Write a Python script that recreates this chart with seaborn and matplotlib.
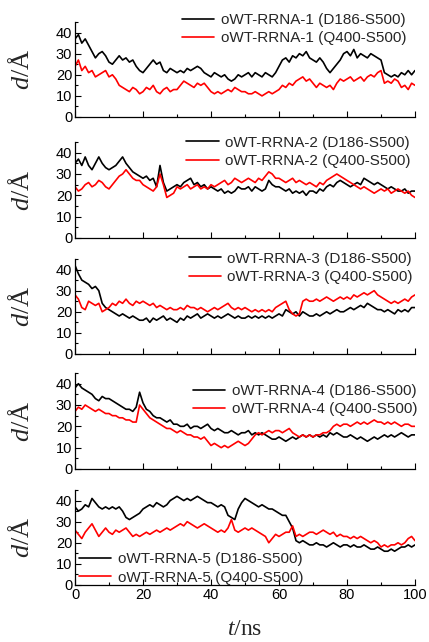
import numpy as np
import pandas as pd
import matplotlib
matplotlib.use("Agg")
import matplotlib.pyplot as plt
from matplotlib.ticker import MultipleLocator
import seaborn as sns

# time axis, 1 ns steps
t_ns = np.arange(0, 101)

# distances (Angstrom)
b1 = [37, 39, 35, 37, 34, 31, 28, 30, 31, 29,
      26, 25, 27, 29, 27, 28, 26, 27, 24, 22,
      21, 23, 25, 27, 25, 26, 22, 21, 23, 22,
      21, 22, 21, 23, 22, 23, 24, 23, 21, 20,
      19, 21, 20, 19, 20, 18, 17, 18, 20, 19,
      20, 21, 19, 21, 20, 19, 21, 20, 19, 21,
      24, 27, 28, 26, 29, 28, 30, 29, 31, 28,
      27, 26, 28, 26, 23, 21, 23, 25, 27, 30,
      31, 29, 32, 28, 30, 29, 28, 30, 29, 28,
      27, 21, 20, 19, 20, 19, 21, 20, 22, 20, 22]
r1 = [24, 27, 22, 24, 21, 22, 19, 20, 21, 22,
      19, 20, 18, 15, 14, 13, 12, 14, 13, 11,
      12, 14, 13, 15, 12, 11, 13, 14, 12, 13,
      13, 15, 17, 16, 15, 14, 16, 15, 16, 14,
      12, 11, 12, 11, 12, 13, 12, 14, 13, 12,
      12, 11, 11, 12, 11, 10, 11, 12, 11, 12,
      13, 15, 14, 16, 15, 17, 18, 19, 17, 18,
      16, 14, 16, 15, 14, 15, 13, 16, 18, 17,
      18, 19, 17, 18, 19, 17, 19, 20, 19, 21,
      22, 16, 17, 16, 18, 17, 14, 15, 13, 16, 15]
b2 = [35, 37, 34, 38, 34, 32, 35, 38, 35, 33,
      32, 33, 34, 36, 38, 35, 33, 31, 30, 29,
      28, 29, 27, 28, 24, 34, 26, 22, 23, 24,
      25, 24, 26, 27, 28, 25, 26, 24, 25, 23,
      24, 23, 22, 23, 21, 22, 21, 22, 24, 23,
      23, 24, 22, 24, 23, 22, 23, 27, 25, 24,
      24, 23, 22, 23, 21, 22, 21, 22, 20, 22,
      22, 21, 23, 22, 24, 25, 24, 26, 27, 26,
      25, 24, 25, 26, 25, 28, 27, 26, 25, 26,
      25, 24, 23, 24, 23, 22, 22, 23, 21, 22, 22]
r2 = [24, 22, 23, 25, 26, 24, 25, 27, 26, 24,
      23, 25, 27, 29, 30, 32, 30, 28, 27, 27,
      25, 24, 23, 22, 24, 30, 25, 19, 20, 21,
      24, 23, 24, 25, 23, 24, 25, 23, 24, 23,
      25, 24, 25, 26, 27, 25, 26, 28, 27, 26,
      27, 28, 27, 26, 28, 27, 29, 31, 30, 28,
      28, 27, 26, 27, 28, 26, 27, 26, 25, 26,
      25, 24, 26, 25, 27, 28, 29, 30, 29, 28,
      27, 26, 25, 24, 23, 24, 23, 22, 21, 22,
      23, 22, 23, 21, 22, 23, 22, 21, 22, 20, 19]
b3 = [42, 38, 35, 34, 33, 31, 32, 30, 24, 22,
      21, 20, 19, 18, 19, 18, 17, 18, 17, 16,
      16, 17, 15, 17, 16, 17, 18, 16, 17, 16,
      15, 17, 16, 18, 17, 18, 19, 17, 18, 19,
      18, 17, 18, 17, 18, 19, 18, 17, 18, 17,
      17, 18, 17, 18, 17, 18, 17, 18, 17, 18,
      19, 18, 21, 20, 19, 20, 18, 20, 19, 18,
      18, 19, 18, 19, 20, 19, 20, 21, 20, 20,
      21, 22, 21, 22, 23, 22, 24, 23, 22, 21,
      21, 20, 21, 20, 19, 21, 20, 21, 20, 22, 22]
r3 = [28, 26, 22, 21, 25, 24, 23, 24, 20, 21,
      22, 24, 23, 25, 24, 26, 24, 23, 25, 24,
      25, 24, 23, 24, 22, 23, 22, 21, 22, 21,
      21, 22, 21, 23, 22, 22, 21, 22, 21, 20,
      21, 22, 21, 22, 23, 24, 22, 21, 22, 21,
      22, 21, 20, 21, 20, 21, 20, 21, 20, 22,
      23, 24, 25, 21, 19, 18, 19, 25, 26, 25,
      25, 26, 25, 26, 27, 26, 25, 26, 27, 26,
      27, 26, 28, 27, 28, 29, 28, 29, 30, 28,
      27, 26, 25, 24, 25, 24, 25, 26, 25, 27, 28]
b4 = [38, 40, 38, 37, 36, 35, 33, 32, 34, 33,
      33, 32, 31, 30, 29, 28, 28, 27, 29, 36,
      31, 28, 27, 25, 24, 24, 23, 22, 23, 21,
      21, 20, 20, 21, 19, 20, 20, 19, 20, 21,
      19, 18, 19, 18, 17, 17, 18, 17, 16, 17,
      17, 18, 16, 17, 16, 17, 16, 15, 14, 14,
      15, 14, 13, 14, 15, 14, 15, 16, 15, 16,
      15, 16, 15, 16, 15, 17, 16, 17, 16, 15,
      15, 16, 15, 14, 15, 14, 13, 14, 15, 14,
      15, 16, 15, 16, 15, 16, 17, 16, 15, 16, 16]
r4 = [27, 29, 28, 30, 29, 28, 27, 28, 27, 26,
      26, 25, 25, 24, 24, 23, 23, 22, 22, 30,
      28, 26, 24, 23, 22, 21, 20, 19, 19, 18,
      17, 18, 17, 16, 16, 15, 15, 14, 15, 13,
      11, 12, 11, 10, 11, 10, 11, 12, 13, 12,
      11, 12, 14, 16, 17, 16, 17, 18, 17, 18,
      18, 17, 18, 19, 17, 16, 15, 16, 15, 16,
      15, 16, 16, 17, 17, 18, 20, 21, 20, 21,
      21, 20, 21, 22, 21, 22, 21, 22, 23, 22,
      22, 21, 22, 21, 22, 21, 20, 21, 21, 20, 20]
b5 = [37, 35, 36, 38, 37, 41, 39, 37, 36, 37,
      36, 37, 36, 37, 35, 32, 31, 32, 33, 34,
      36, 37, 38, 37, 39, 38, 37, 38, 40, 41,
      42, 41, 40, 41, 40, 41, 42, 41, 40, 39,
      39, 38, 37, 38, 37, 33, 32, 31, 36, 39,
      41, 40, 39, 38, 37, 38, 37, 36, 36, 35,
      34, 33, 33, 30, 27, 21, 20, 21, 20, 19,
      19, 20, 19, 19, 18, 19, 20, 19, 18, 19,
      19, 18, 19, 18, 18, 19, 18, 17, 17, 18,
      17, 16, 16, 17, 16, 17, 18, 18, 19, 18, 19]
r5 = [26, 24, 22, 25, 27, 29, 26, 23, 25, 27,
      25, 24, 26, 25, 26, 27, 25, 23, 24, 23,
      24, 25, 24, 25, 26, 25, 26, 27, 26, 27,
      28, 29, 28, 30, 29, 28, 27, 28, 29, 28,
      27, 26, 25, 26, 25, 27, 31, 26, 25, 26,
      27, 26, 27, 26, 25, 24, 23, 20, 22, 24,
      23, 24, 25, 25, 28, 23, 24, 23, 24, 25,
      25, 24, 25, 26, 25, 24, 25, 23, 24, 23,
      23, 22, 23, 22, 23, 22, 21, 20, 21, 20,
      18, 19, 18, 19, 19, 20, 19, 20, 22, 23, 21]

black_series = [b1, b2, b3, b4, b5]
red_series = [r1, r2, r3, r4, r5]
pair_labels = ["D186-S500", "Q400-S500"]

sns.set_theme(style="ticks")
plt.rcParams["font.family"] = ["Liberation Sans", "DejaVu Sans"]
plt.rcParams["mathtext.fontset"] = "custom"
plt.rcParams["mathtext.rm"] = "Liberation Serif"
plt.rcParams["mathtext.it"] = "Liberation Serif:italic"

W, H = 429, 642
fig = plt.figure(figsize=(W / 100, H / 100), dpi=100)

# panel extents in pixels (top, bottom)
panel_px = [(22, 117), (142, 238), (259, 354), (373, 469), (490, 585)]
left_px, right_px = 75, 415
# legend location and anchor (axes fraction) per panel
legend_spec = [
    ("upper right", (0.994, 1.16)),
    ("upper right", (1.006, 1.13)),
    ("upper right", (1.012, 1.14)),
    ("upper right", (1.026, 0.95)),
    ("lower left", (-0.005, -0.06)),
]

for i in range(5):
    top, bot = panel_px[i]
    ax = fig.add_axes([left_px / W, 1 - bot / H, (right_px - left_px) / W, (bot - top) / H])
    n = i + 1
    labels = [f"oWT-RRNA-{n} ({p})" for p in pair_labels]
    df = pd.DataFrame({
        "t": np.concatenate([t_ns, t_ns]),
        "d": np.concatenate([black_series[i], red_series[i]]),
        "series": [labels[0]] * len(t_ns) + [labels[1]] * len(t_ns),
    })
    sns.lineplot(data=df, x="t", y="d", hue="series", palette=["black", "red"],
                 linewidth=1.2, ax=ax, legend=True)
    ax.set_xlim(0, 100)
    ax.set_ylim(0, 45)
    sns.despine(ax=ax)
    ax.xaxis.set_major_locator(MultipleLocator(20))
    ax.xaxis.set_minor_locator(MultipleLocator(10))
    ax.yaxis.set_major_locator(MultipleLocator(10))
    ax.yaxis.set_minor_locator(MultipleLocator(5))
    ax.tick_params(which="both", direction="in", color="black", width=0.8,
                   labelsize=10.5, labelcolor="black", pad=2)
    ax.tick_params(which="major", length=4)
    ax.tick_params(which="minor", length=2.5)
    for s in ("left", "bottom"):
        ax.spines[s].set_color("black")
        ax.spines[s].set_linewidth(0.9)
    ax.set_ylabel(r"$d$/Å", fontsize=19, family="Liberation Serif")
    ax.yaxis.set_label_coords(-0.12, 0.5)
    if i < 4:
        ax.set_xticklabels([])
        ax.set_xlabel("")
    else:
        ax.set_xlabel(r"$t$/ns", fontsize=17, family="Liberation Serif")
        ax.xaxis.set_label_coords(0.5, -0.36)
    loc, anchor = legend_spec[i]
    ax.legend(loc=loc, bbox_to_anchor=anchor, frameon=False, fontsize=11,
              handlelength=2.1, handletextpad=0.45, labelspacing=0.3,
              borderaxespad=0, title=None)

fig.savefig("out.png", dpi=100)
